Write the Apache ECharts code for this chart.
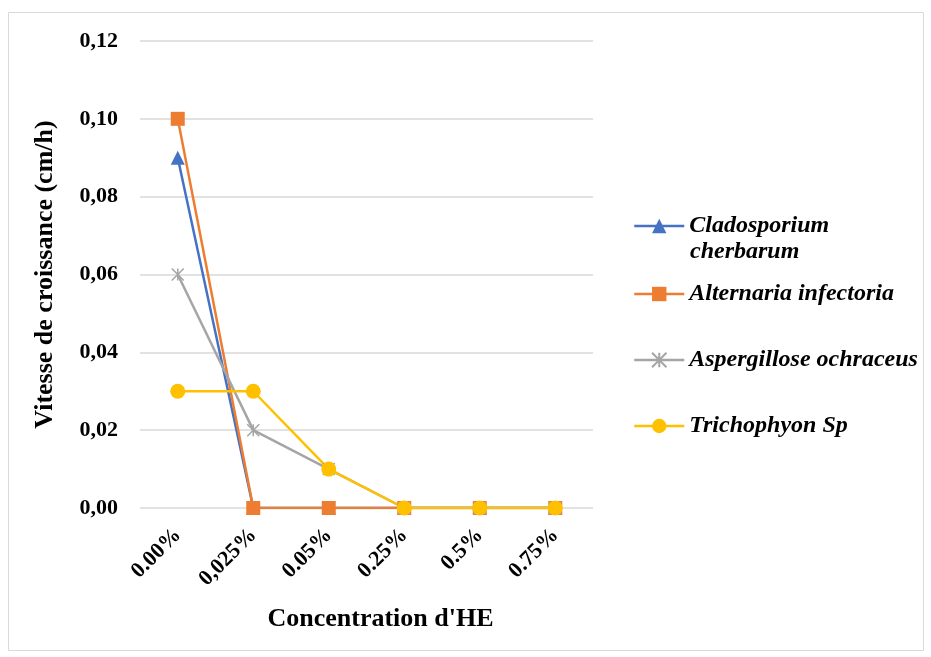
<!DOCTYPE html>
<html>
<head>
<meta charset="utf-8">
<script src="https://cdn.jsdelivr.net/npm/echarts@6/dist/echarts.min.js"></script>
<style>
  html, body { margin: 0; padding: 0; background: #fff; }
  #chart { width: 931px; height: 657px; }
</style>
</head>
<body>
<div id="chart"></div>
<script>
// Concentrations of essential oil (x categories)
const concentrations = ['0.00%', '0,025%', '0.05%', '0.25%', '0.5%', '0.75%'];

// Growth speed (cm/h) per species
const cladosporium = [0.09, 0, 0, 0, 0, 0];
const alternaria   = [0.10, 0, 0, 0, 0, 0];
const aspergillose = [0.06, 0.02, 0.01, 0, 0, 0];
const trichophyon  = [0.03, 0.03, 0.01, 0, 0, 0];

const seriesNames = ['Cladosporium', 'Alternaria infectoria', 'Aspergillose ochraceus', 'Trichophyon Sp'];

const FONT = '"Liberation Serif", "Times New Roman", serif';
const asterisk = 'path://M0,0L10,10M10,0L0,10M5,0L5,10';

const chart = echarts.init(document.getElementById('chart'));

function legendAt(name, top) {
  return {
    data: [name],
    left: 628,
    top: top,
    itemWidth: 50,
    itemHeight: 18,
    itemGap: 0,
    lineStyle: { width: 2.5 },
    textStyle: { fontFamily: FONT, fontSize: 24, fontWeight: 'bold', fontStyle: 'italic', color: '#000' }
  };
}

chart.setOption({
  backgroundColor: '#fff',
  animation: false,
  graphic: [
    {
      type: 'rect',
      shape: { x: 8.5, y: 12.5, width: 915, height: 638 },
      style: { fill: 'none', stroke: '#d9d9d9', lineWidth: 1 }
    },
    {
      type: 'text',
      left: 690,
      top: 240,
      style: { text: 'cherbarum', font: 'italic bold 24px ' + FONT, fill: '#000' }
    }
  ],
  legend: [
    legendAt(seriesNames[0], 209),
    legendAt(seriesNames[1], 277),
    legendAt(seriesNames[2], 343),
    legendAt(seriesNames[3], 409)
  ],
  grid: { left: 140, right: 338, top: 41, bottom: 149 },
  xAxis: {
    type: 'category',
    data: concentrations,
    boundaryGap: true,
    axisLine: { show: false },
    axisTick: { show: false },
    axisLabel: {
      rotate: 45,
      margin: 24,
      fontFamily: FONT, fontSize: 22, fontWeight: 'bold', color: '#000'
    },
    name: "Concentration d'HE",
    nameLocation: 'middle',
    nameGap: 98,
    nameTextStyle: { fontFamily: FONT, fontSize: 26, fontWeight: 'bold', color: '#000', padding: [0, 0, 0, 28] }
  },
  yAxis: {
    type: 'value',
    min: 0,
    max: 0.12,
    interval: 0.02,
    axisLine: { show: false },
    axisTick: { show: false },
    splitLine: { lineStyle: { color: '#d9d9d9', width: 1.5 } },
    axisLabel: {
      margin: 22,
      formatter: v => v.toFixed(2).replace('.', ','),
      fontFamily: FONT, fontSize: 22, fontWeight: 'bold', color: '#000'
    },
    name: 'Vitesse de croissance (cm/h)',
    nameLocation: 'middle',
    nameGap: 82,
    nameTextStyle: { fontFamily: FONT, fontSize: 26, fontWeight: 'bold', color: '#000' }
  },
  series: [
    {
      name: seriesNames[0], type: 'line', data: cladosporium,
      symbol: 'triangle', symbolSize: 14,
      lineStyle: { color: '#4472C4', width: 2.5 },
      itemStyle: { color: '#4472C4' }
    },
    {
      name: seriesNames[1], type: 'line', data: alternaria,
      symbol: 'rect', symbolSize: 14,
      lineStyle: { color: '#ED7D31', width: 2.5 },
      itemStyle: { color: '#ED7D31' }
    },
    {
      name: seriesNames[2], type: 'line', data: aspergillose,
      symbol: asterisk, symbolSize: 12,
      lineStyle: { color: '#A5A5A5', width: 2.5 },
      itemStyle: { color: '#A5A5A5', borderColor: '#A5A5A5', borderWidth: 1.5 }
    },
    {
      name: seriesNames[3], type: 'line', data: trichophyon,
      symbol: 'circle', symbolSize: 15,
      lineStyle: { color: '#FFC000', width: 2.5 },
      itemStyle: { color: '#FFC000' }
    }
  ]
});
</script>
</body>
</html>
